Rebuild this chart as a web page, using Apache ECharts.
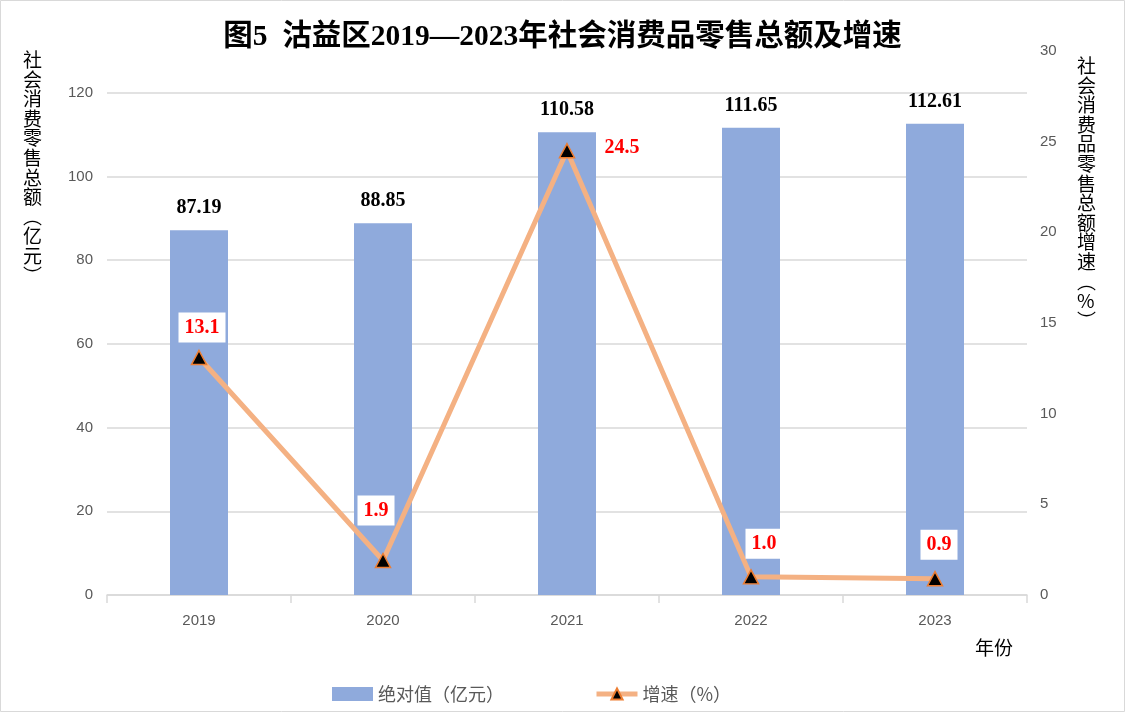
<!DOCTYPE html>
<html>
<head>
<meta charset="utf-8">
<script src="https://cdn.jsdelivr.net/npm/echarts@6/dist/echarts.min.js"></script>
<style>
html,body{margin:0;padding:0;background:#fff;}
#c{width:1125px;height:712px;}
</style>
</head>
<body>
<div id="c"></div>
<script>
var years = ['2019', '2020', '2021', '2022', '2023'];
var totals = [87.19, 88.85, 110.58, 111.65, 112.61];
var growth = [13.1, 1.9, 24.5, 1.0, 0.9];
var leftTicks = [0, 20, 40, 60, 80, 100, 120];
var rightTicks = [0, 5, 10, 15, 20, 25, 30];

var titleText = '图5  沽益区2019—2023年社会消费品零售总额及增速';
var leftName = '社会消费零售总额︵亿元︶';
var rightName = '社会消费品零售总额增速︵%︶';
var xName = '年份';
var barName = '绝对值（亿元）';
var lineName = '增速（%）';

var labelOffsets = [[3, -30], [-7, -50], [55, -3], [13, -33], [4, -34]];

var chart = echarts.init(document.getElementById('c'), null, {renderer: 'canvas'});

var lineData = growth.map(function (v, i) {
  return {
    value: v,
    label: {offset: labelOffsets[i]}
  };
});

var serifBold = '"Liberation Serif", "Times New Roman", "Noto Sans CJK SC", serif';
var cjk = '"Noto Sans CJK SC", "Liberation Sans", sans-serif';

var option = {
  animation: false,
  backgroundColor: '#ffffff',
  title: {
    text: titleText,
    left: 'center',
    top: 18,
    textStyle: {
      fontFamily: serifBold,
      fontWeight: 'bold',
      fontSize: 29.5,
      color: '#000'
    }
  },
  grid: {left: 107, right: 98, top: 51, bottom: 117},
  legend: {
    left: 327,
    top: 680,
    itemWidth: 41,
    itemHeight: 14,
    itemGap: 90,
    textStyle: {fontFamily: cjk, fontSize: 18, color: '#595959'},
    data: [
      {name: barName, icon: 'rect'},
      {name: lineName, lineStyle: {width: 5, color: '#F4B183'}}
    ]
  },
  xAxis: {
    type: 'category',
    data: years,
    axisLine: {lineStyle: {color: '#d9d9d9', width: 1.5}},
    axisTick: {show: true, length: 8, lineStyle: {color: '#d9d9d9', width: 1.5}},
    axisLabel: {fontSize: 15, color: '#595959', margin: 18, fontFamily: '"Liberation Sans", sans-serif'}
  },
  yAxis: [
    {
      type: 'value',
      min: leftTicks[0],
      max: 130,
      interval: leftTicks[1] - leftTicks[0],
      axisLine: {show: false},
      axisTick: {show: false},
      axisLabel: {fontSize: 15, color: '#595959', margin: 14, showMaxLabel: false, fontFamily: '"Liberation Sans", sans-serif'},
      splitLine: {show: true, showMaxLine: false, lineStyle: {color: '#d9d9d9', width: 1.5}}
    },
    {
      type: 'value',
      min: rightTicks[0],
      max: rightTicks[rightTicks.length - 1],
      interval: rightTicks[1] - rightTicks[0],
      axisLine: {show: false},
      axisTick: {show: false},
      axisLabel: {fontSize: 15, color: '#595959', margin: 13, fontFamily: '"Liberation Sans", sans-serif'},
      splitLine: {show: false}
    }
  ],
  series: [
    {
      name: barName,
      type: 'bar',
      data: totals,
      barWidth: 58,
      itemStyle: {color: '#8FAADC'},
      label: {
        show: true,
        position: 'top',
        distance: 12,
        fontFamily: serifBold,
        fontWeight: 'bold',
        fontSize: 20,
        color: '#000',
        formatter: function (p) { return p.value.toFixed(2); }
      }
    },
    {
      name: lineName,
      type: 'line',
      yAxisIndex: 1,
      data: lineData,
      symbol: 'triangle',
      symbolSize: [15, 14],
      lineStyle: {color: '#F4B183', width: 5},
      itemStyle: {color: '#000', borderColor: '#ED7D31', borderWidth: 1.5},
      label: {
        show: true,
        position: 'inside',
        fontFamily: serifBold,
        fontWeight: 'bold',
        fontSize: 20,
        color: '#FF0000',
        backgroundColor: '#ffffff',
        padding: [6, 6, 4, 6],
        formatter: function (p) { return p.value.toFixed(1); }
      },
      z: 5
    }
  ],
  graphic: [
    {
      type: 'rect',
      shape: {x: 0.5, y: 0.5, width: 1124, height: 711},
      style: {fill: 'none', stroke: '#d9d9d9', lineWidth: 1},
      silent: true
    },
    {
      type: 'text',
      left: 23,
      top: 50,
      style: {
        text: leftName.split('').join('\n'),
        fontFamily: cjk,
        fontSize: 19,
        lineHeight: 19.6,
        fill: '#000',
        align: 'center'
      }
    },
    {
      type: 'text',
      left: 1077,
      top: 56,
      style: {
        text: rightName.split('').join('\n'),
        fontFamily: cjk,
        fontSize: 19,
        lineHeight: 19.6,
        fill: '#000',
        align: 'center'
      }
    },
    {
      type: 'text',
      left: 975,
      top: 638,
      style: {
        text: xName,
        fontFamily: cjk,
        fontSize: 19,
        fill: '#000'
      }
    }
  ]
};

chart.setOption(option);
</script>
</body>
</html>
